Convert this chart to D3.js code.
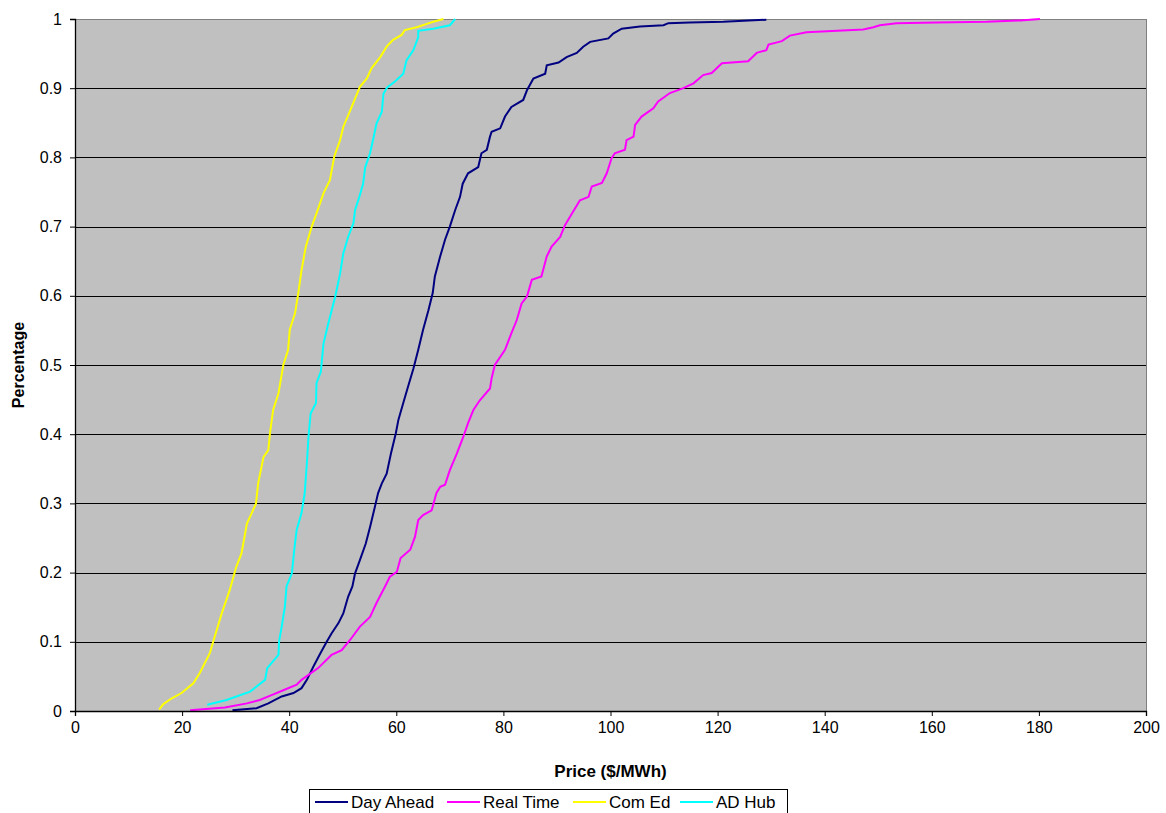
<!DOCTYPE html>
<html>
<head>
<meta charset="utf-8">
<script src="https://cdn.jsdelivr.net/npm/d3@7"></script>
<style>
  body { margin: 0; background: #fff; }
  text { font-family: "Liberation Sans", Arial, sans-serif; fill: #000; }
</style>
</head>
<body>
<div id="chart"></div>
<script>
// price ($/MWh) vs cumulative share
var dayAhead = [
  [29.4, 0.001], [33.9, 0.004], [36.1, 0.011], [38.6, 0.021], [40.8, 0.026], [42.3, 0.033],
  [43.3, 0.045], [44.5, 0.064], [45.8, 0.083], [47.0, 0.100], [47.9, 0.112], [49.2, 0.127],
  [50.1, 0.141], [51.0, 0.165], [51.8, 0.180], [52.3, 0.199], [53.2, 0.218], [54.3, 0.242],
  [55.1, 0.266], [56.0, 0.295], [56.6, 0.315], [57.3, 0.329], [58.2, 0.343], [59.0, 0.372],
  [59.9, 0.401], [60.4, 0.421], [61.3, 0.445], [62.2, 0.469], [63.2, 0.495], [64.1, 0.522],
  [65.0, 0.551], [66.0, 0.579], [66.8, 0.604], [67.2, 0.628], [68.2, 0.657], [69.1, 0.681],
  [70.0, 0.700], [71.0, 0.724], [71.9, 0.743], [72.4, 0.762], [73.4, 0.777], [75.3, 0.786],
  [75.9, 0.806], [76.9, 0.811], [77.5, 0.830], [77.8, 0.837], [79.4, 0.842], [80.3, 0.859],
  [81.5, 0.873], [83.7, 0.883], [84.4, 0.897], [85.6, 0.914], [87.8, 0.921], [88.1, 0.933],
  [90.3, 0.937], [91.8, 0.945], [93.7, 0.951], [94.9, 0.960], [96.2, 0.967], [99.6, 0.972],
  [100.5, 0.979], [102.1, 0.986], [105.5, 0.989], [109.9, 0.991], [110.8, 0.994], [114.8, 0.995],
  [121.1, 0.996], [129.1, 0.999]
];

var realTime = [
  [21.5, 0.001], [28.0, 0.005], [32.1, 0.011], [34.5, 0.016], [36.7, 0.023], [38.9, 0.030],
  [41.4, 0.038], [42.3, 0.045], [45.4, 0.062], [47.9, 0.081], [49.8, 0.088], [51.4, 0.103],
  [53.2, 0.122], [55.1, 0.136], [56.3, 0.156], [57.9, 0.180], [58.8, 0.194], [60.1, 0.201],
  [60.8, 0.221], [62.6, 0.233], [63.5, 0.252], [64.1, 0.276], [65.0, 0.283], [66.6, 0.290],
  [67.5, 0.315], [68.2, 0.324], [69.1, 0.327], [70.0, 0.348], [71.3, 0.372], [72.5, 0.396],
  [73.4, 0.416], [74.4, 0.435], [75.6, 0.449], [77.5, 0.466], [77.8, 0.481], [78.4, 0.500],
  [80.3, 0.522], [81.5, 0.546], [82.5, 0.565], [83.4, 0.589], [84.4, 0.599], [85.3, 0.623],
  [87.1, 0.628], [88.1, 0.657], [89.0, 0.671], [90.6, 0.685], [91.5, 0.702], [92.8, 0.719],
  [94.3, 0.738], [95.9, 0.743], [96.5, 0.758], [98.4, 0.763], [99.3, 0.777], [100.2, 0.799],
  [100.8, 0.806], [102.7, 0.811], [103.0, 0.825], [104.3, 0.830], [104.6, 0.847], [105.8, 0.859],
  [108.0, 0.871], [108.9, 0.881], [111.1, 0.893], [113.6, 0.900], [115.5, 0.907], [117.3, 0.919],
  [118.9, 0.922], [120.8, 0.936], [125.7, 0.939], [127.3, 0.951], [129.1, 0.955], [129.5, 0.963],
  [132.0, 0.968], [133.5, 0.976], [136.6, 0.981], [147.2, 0.985], [149.1, 0.988], [150.3, 0.991],
  [153.4, 0.994], [160.9, 0.995], [170.2, 0.996], [176.5, 0.998], [180.2, 1.000]
];

var comEd = [
  [15.7, 0.002], [16.5, 0.010], [18.0, 0.018], [19.9, 0.026], [22.1, 0.040], [23.3, 0.055],
  [25.2, 0.084], [25.8, 0.100], [27.4, 0.141], [28.9, 0.175], [30.1, 0.208], [31.1, 0.228],
  [32.1, 0.271], [33.0, 0.286], [33.8, 0.300], [34.2, 0.329], [35.2, 0.367], [36.1, 0.377],
  [36.4, 0.401], [37.0, 0.435], [38.0, 0.459], [38.9, 0.500], [39.8, 0.522], [40.1, 0.551],
  [41.1, 0.575], [41.7, 0.604], [42.3, 0.637], [43.1, 0.671], [44.2, 0.700], [45.1, 0.719],
  [46.4, 0.748], [47.6, 0.767], [48.4, 0.801], [49.5, 0.825], [50.1, 0.844], [51.4, 0.868],
  [52.3, 0.885], [53.2, 0.902], [54.5, 0.914], [55.4, 0.929], [57.0, 0.945], [58.2, 0.960],
  [59.4, 0.970], [61.0, 0.977], [61.6, 0.984], [63.8, 0.988], [65.7, 0.993], [66.9, 0.996],
  [68.8, 1.000]
];

var adHub = [
  [24.7, 0.009], [28.3, 0.016], [32.7, 0.028], [35.5, 0.045], [35.9, 0.062], [38.0, 0.081],
  [38.1, 0.100], [38.6, 0.122], [39.2, 0.151], [39.5, 0.180], [40.5, 0.199], [41.0, 0.237],
  [41.4, 0.262], [42.3, 0.286], [42.9, 0.315], [43.3, 0.358], [43.6, 0.396], [44.0, 0.430],
  [45.0, 0.445], [45.1, 0.474], [45.9, 0.490], [46.4, 0.531], [47.3, 0.560], [48.6, 0.599],
  [49.5, 0.632], [50.1, 0.661], [51.0, 0.685], [52.0, 0.705], [52.3, 0.724], [53.1, 0.743],
  [53.8, 0.762], [54.2, 0.786], [55.1, 0.806], [55.7, 0.827], [56.3, 0.849], [57.3, 0.866],
  [57.6, 0.892], [58.3, 0.901], [59.8, 0.910], [61.3, 0.921], [61.9, 0.940], [63.2, 0.955],
  [64.1, 0.974], [64.1, 0.983], [66.9, 0.986], [70.0, 0.991], [71.0, 1.000]
];

var seriesNames = ["Day Ahead", "Real Time", "Com Ed", "AD Hub"];
var seriesColors = ["#000080", "#ff00ff", "#ffff00", "#00ffff"];
var xTicks = [0, 20, 40, 60, 80, 100, 120, 140, 160, 180, 200];
var yTicks = [0, 0.1, 0.2, 0.3, 0.4, 0.5, 0.6, 0.7, 0.8, 0.9, 1];

var width = 1166;
var height = 813;

//plot area edges
var plotLeft = 75;
var plotRight = 1146;
var plotTop = 19;
var plotBottom = 711;

var svg = d3
  .select("#chart")
  .append("svg")
  .attr("width", width)
  .attr("height", height);

var xScale = d3.scaleLinear().domain([0, 200]).range([plotLeft, plotRight]);
var yScale = d3.scaleLinear().domain([0, 1]).range([plotBottom, plotTop]);

//grey plot background
svg
  .append("rect")
  .attr("x", plotLeft + 0.5)
  .attr("y", plotTop + 0.5)
  .attr("width", plotRight - plotLeft)
  .attr("height", plotBottom - plotTop)
  .attr("fill", "#c0c0c0")
  .attr("stroke", "#808080")
  .attr("stroke-width", 1);

//horizontal gridlines
svg
  .append("g")
  .selectAll("line")
  .data(yTicks.filter(function(d) { return d > 0 && d < 1; }))
  .enter()
  .append("line")
  .attr("x1", plotLeft)
  .attr("x2", plotRight)
  .attr("y1", function(d) { return Math.round(yScale(d)) + 0.5; })
  .attr("y2", function(d) { return Math.round(yScale(d)) + 0.5; })
  .attr("stroke", "#000")
  .attr("stroke-width", 1);

//lines for each series
var line = d3
  .line()
  .x(function(d) { return xScale(d[0]); })
  .y(function(d) { return yScale(d[1]); });

var allSeries = [dayAhead, realTime, comEd, adHub];

svg
  .append("g")
  .selectAll("path")
  .data(allSeries)
  .enter()
  .append("path")
  .attr("d", line)
  .attr("fill", "none")
  .attr("stroke", function(d, i) { return seriesColors[i]; })
  .attr("stroke-width", 2)
  .attr("stroke-linejoin", "miter");

//axes
var xAxis = d3.axisBottom(xScale).tickValues(xTicks).tickSize(5).tickPadding(6)
  .tickFormat(d3.format("d"));
var yAxis = d3.axisLeft(yScale).tickValues(yTicks).tickSize(5).tickPadding(8)
  .tickFormat(function(d) { return d === 0 || d === 1 ? d3.format("d")(d) : d3.format(".1f")(d); });

var gx = svg
  .append("g")
  .attr("class", "xAxis")
  .attr("transform", "translate(0," + plotBottom + ")")
  .call(xAxis);

var gy = svg
  .append("g")
  .attr("class", "yAxis")
  .attr("transform", "translate(" + plotLeft + ",0)")
  .call(yAxis);

[gx, gy].forEach(function(g) {
  g.select(".domain").attr("stroke", "#000").attr("stroke-width", 1.3);
  g.selectAll(".tick line").attr("stroke", "#000");
  g.selectAll(".tick text")
    .attr("font-size", 16)
    .attr("font-family", "Liberation Sans, Arial, sans-serif");
});

//axis titles
svg
  .append("text")
  .attr("x", (plotLeft + plotRight) / 2)
  .attr("y", 777)
  .attr("text-anchor", "middle")
  .attr("font-size", 17)
  .attr("font-weight", "bold")
  .text("Price ($/MWh)");

svg
  .append("text")
  .attr("transform", "translate(24," + ((plotTop + plotBottom) / 2) + ")rotate(-90)")
  .attr("text-anchor", "middle")
  .attr("font-size", 16)
  .attr("font-weight", "bold")
  .text("Percentage");

//legend box, partly below the page edge like the original
var legend = svg.append("g").attr("class", "legend");

legend
  .append("rect")
  .attr("x", 309.5)
  .attr("y", 789.5)
  .attr("width", 478)
  .attr("height", 30)
  .attr("fill", "#fff")
  .attr("stroke", "#000")
  .attr("stroke-width", 1);

var legendX = [315, 447, 573, 680];

var items = legend
  .selectAll("g.item")
  .data(seriesNames)
  .enter()
  .append("g")
  .attr("class", "item")
  .attr("transform", function(d, i) { return "translate(" + legendX[i] + ",802)"; });

items
  .append("line")
  .attr("x1", 0)
  .attr("x2", 33)
  .attr("stroke", function(d, i) { return seriesColors[i]; })
  .attr("stroke-width", 2);

items
  .append("text")
  .attr("x", 36)
  .attr("y", 6)
  .attr("font-size", 17)
  .text(function(d) { return d; });
</script>
</body>
</html>
